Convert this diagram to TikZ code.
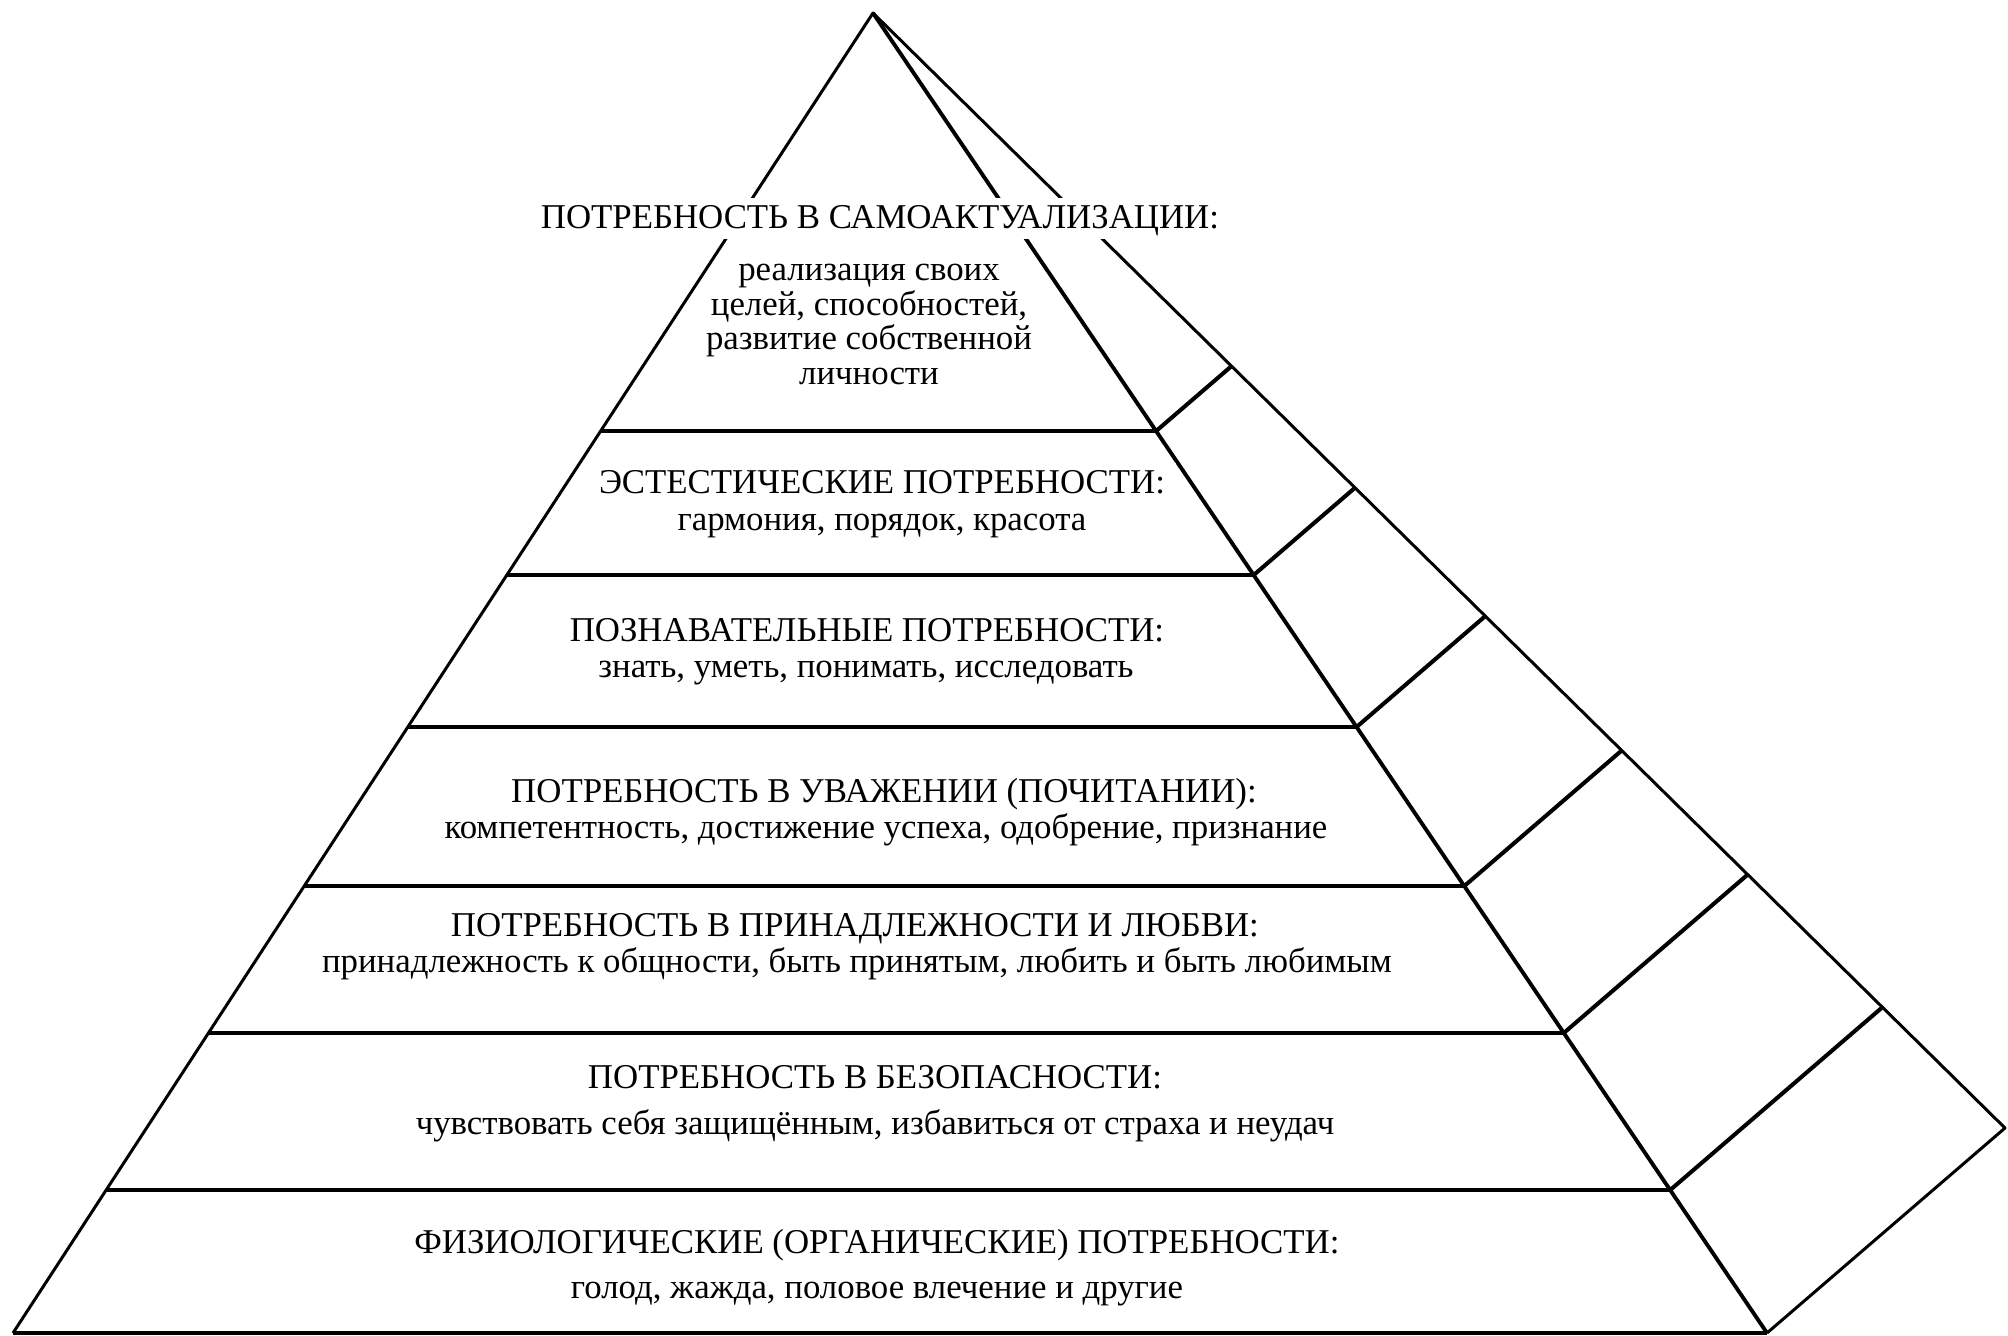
\documentclass[tikz,border=0pt]{standalone}
\usepackage{fontspec}
\setmainfont{Liberation Serif}
\usetikzlibrary{calc}

\begin{document}
\begin{tikzpicture}[x=0.01cm,y=-0.01cm,
    edge/.style={line width=0.85pt,line join=round},
    front/.style={line width=1.1pt,line join=round},
    level/.style={line width=1.15pt},
    head/.style={anchor=base,fill=white,inner xsep=3pt,inner ysep=1pt,
                 text height=7.6pt,text depth=2.2pt,font=\fontsize{9.9}{10}\selectfont},
    body/.style={anchor=base,inner sep=0pt,font=\fontsize{9.9}{10}\selectfont}]

\useasboundingbox (0,0) rectangle (2008,1336);

\coordinate (top) at (873,13);
\coordinate (bl) at (13,1333);
\coordinate (bf) at (1767,1333);
\coordinate (bc) at (2005,1128);

% levels and side rungs
\foreach \t [count=\i] in {0.3167,0.4258,0.5409,0.6614,0.7727,0.8917}{
  \coordinate (l\i) at ($(top)!\t!(bl)$);
  \coordinate (f\i) at ($(top)!\t!(bf)$);
  \coordinate (b\i) at ($(top)!\t!(bc)$);
  \draw[level] (l\i) -- (f\i);
  \draw[level] (f\i) -- (b\i);
}
\draw[edge] (bl) -- (top) -- (bc) -- (bf);
\draw[front] (top) -- (bf);
\draw[level] (bl) -- (bf);

\node[head] (h1) at (880,228) {ПОТРЕБНОСТЬ В САМОАКТУАЛИЗАЦИИ:};
\node[body] (d1a) at (869,280) {реализация своих};
\node[body] (d1b) at (869,315) {целей, способностей,};
\node[body] (d1c) at (869,349) {развитие собственной};
\node[body] (d1d) at (869,384) {личности};

\node[head] (h2) at (882,493) {ЭСТЕСТИЧЕСКИЕ ПОТРЕБНОСТИ:};
\node[body] (d2) at (882,530) {гармония, порядок, красота};

\node[head] (h3) at (867,641) {ПОЗНАВАТЕЛЬНЫЕ ПОТРЕБНОСТИ:};
\node[body] (d3) at (866,677) {знать, уметь, понимать, исследовать};

\node[head] (h4) at (884,802) {ПОТРЕБНОСТЬ В УВАЖЕНИИ (ПОЧИТАНИИ):};
\node[body] (d4) at (886,838) {компетентность, достижение успеха, одобрение, признание};

\node[head] (h5) at (855,936) {ПОТРЕБНОСТЬ В ПРИНАДЛЕЖНОСТИ И ЛЮБВИ:};
\node[body] (d5) at (857,972) {принадлежность к общности, быть принятым, любить и быть любимым};

\node[head] (h6) at (875,1088) {ПОТРЕБНОСТЬ В БЕЗОПАСНОСТИ:};
\node[body] (d6) at (875,1134) {чувствовать себя защищённым, избавиться от страха и неудач};

\node[head] (h7) at (877,1253) {ФИЗИОЛОГИЧЕСКИЕ (ОРГАНИЧЕСКИЕ) ПОТРЕБНОСТИ:};
\node[body] (d7) at (877,1298) {голод, жажда, половое влечение и другие};

\end{tikzpicture}
\end{document}
